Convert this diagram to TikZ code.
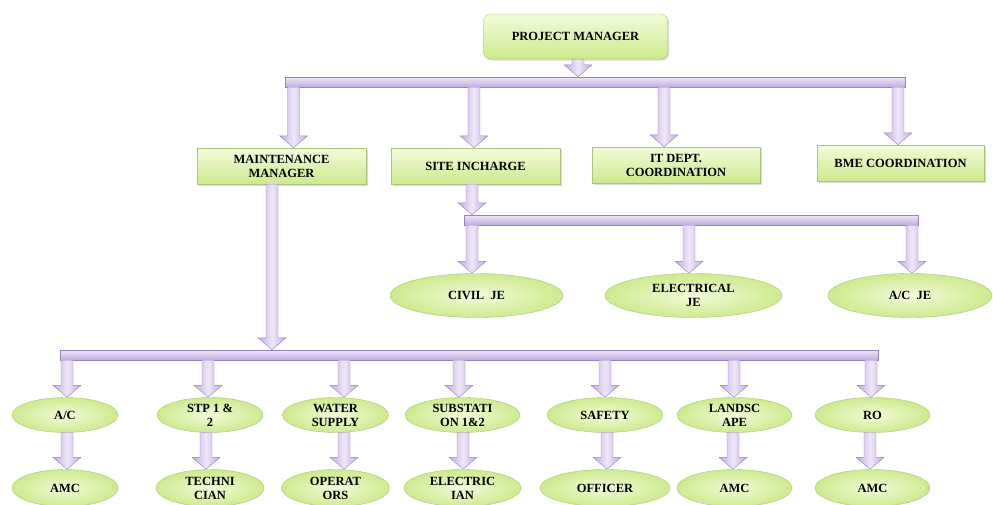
\documentclass[tikz,border=0pt]{standalone}
\usepackage{fontspec}
\setmainfont{Liberation Serif}
\usetikzlibrary{shapes,% allows nodes to be ellipses
calc,%                 let ... in, for the block arrows
shadows}
\definecolor{leafhi}{HTML}{F2FBD9}
\definecolor{leaflo}{HTML}{CDEA8E}
\definecolor{leafline}{HTML}{AEC47E}
\definecolor{lilachi}{HTML}{EEE6F8}
\definecolor{lilaclo}{HTML}{C2ABE2}
\definecolor{lilacline}{HTML}{9783C2}
\tikzset{every node/.style={font=\fontsize{12.5}{14}\selectfont\bfseries,align=center},
  post/.style={rectangle,draw=leafline,top color=leafhi,bottom color=leaflo,
    minimum height=36pt,drop shadow={shadow xshift=1.5pt,shadow yshift=-1.5pt,opacity=0.3}},
  leaf/.style={ellipse,draw=leafline,inner color=leafhi,outer color=leaflo,inner sep=0pt},
  rail/.style={rectangle,draw=lilacline,top color=lilachi,bottom color=lilaclo,
    minimum height=10pt,inner sep=0pt},
  fatarrow/.style={draw=lilacline,left color=lilaclo,right color=lilaclo,middle color=lilachi}}
\newcommand{\fatarrow}[3][0]
{\path[fatarrow] let \p1=#2, \p2=#3 in
  (\x1+#1pt-6pt,\y1) -- (\x1+#1pt+6pt,\y1) -- (\x1+#1pt+6pt,\y2+12pt)
  -- (\x1+#1pt+14pt,\y2+12pt) -- (\x1+#1pt,\y2) -- (\x1+#1pt-14pt,\y2+12pt)
  -- (\x1+#1pt-6pt,\y2+12pt) -- cycle;}
\begin{document}
\begin{tikzpicture}[x=1pt,y=-1pt]
\useasboundingbox (0,0) rectangle (993,504);
\node[post,rounded corners=7pt,minimum width=184pt,minimum height=45pt] (pm) at (575.5,36.5) {PROJECT MANAGER};
\node[rail,minimum width=620pt] (topbar) at (595,82) {};
\node[post,minimum width=169pt] (mm) at (281.5,166) {MAINTENANCE\\MANAGER};
\node[post,minimum width=169pt] (si) at (475.5,166) {SITE INCHARGE};
\node[post,minimum width=168pt] (it) at (676,165) {IT DEPT.\\COORDINATION};
\node[post,minimum width=167pt] (bme) at (900.5,163) {BME COORDINATION};
\fatarrow[2.5]{(pm.south)}{(topbar.north)}
\foreach \who/\dx in {mm/12,si/-1.5,it/-12,bme/-2.5}
  {\fatarrow[\dx]{(topbar.south -| \who)}{(\who.north)}}
% site incharge branch
\node[rail,minimum width=454pt] (sibar) at (691,220) {};
\fatarrow[-3.5]{(si.south)}{(sibar.north)}
\foreach \who/\cx/\w/\txt/\dx in {civil/476.5/173/{CIVIL~ JE}/-4.5,
  elje/693.5/177/{ELECTRICAL\\JE}/-4.5,acje/910/164/{A/C~ JE}/2}
  {\node[leaf,minimum width=\w pt,minimum height=44pt] (\who) at (\cx,295.5) {\txt};
   \fatarrow[\dx]{(sibar.south -| \who)}{(\who.north)}}
% maintenance branch
\node[rail,minimum width=818pt] (mmbar) at (469,355) {};
\fatarrow[-9.5]{(mm.south)}{(mmbar.north)}
\foreach \up/\down/\cx/\wa/\wb/\txta/\txtb/\da/\db in {
  acr/amca/65/106/106/{A/C}/AMC/2/2,
  stp/tech/210/106/108/{STP 1 \&\\ 2}/{TECHNI\\CIAN}/-2/-4,
  water/oper/335.5/106/108/{WATER\\SUPPLY}/{OPERAT\\ORS}/8.5/8.5,
  subst/elec/462.5/115/117/{SUBSTATI\\ON 1\&2}/{ELECTRIC\\IAN}/-3.5/0.5,
  safety/officer/605/116/130/SAFETY/OFFICER/0/2,
  landsc/amcb/734.5/115/115/{LANDSC\\APE}/AMC/-0.5/-1.5,
  ro/amcc/872.5/115/115/RO/AMC/-1.5/-2.5}
  {\node[leaf,minimum width=\wa pt,minimum height=35pt] (\up) at (\cx,415) {\txta};
   \node[leaf,minimum width=\wb pt,minimum height=37pt] (\down) at (\cx,488) {\txtb};
   \fatarrow[\da]{(mmbar.south -| \up)}{(\up.north)}
   \fatarrow[\db]{(\up.south)}{(\down.north)}}
\end{tikzpicture}
\end{document}
